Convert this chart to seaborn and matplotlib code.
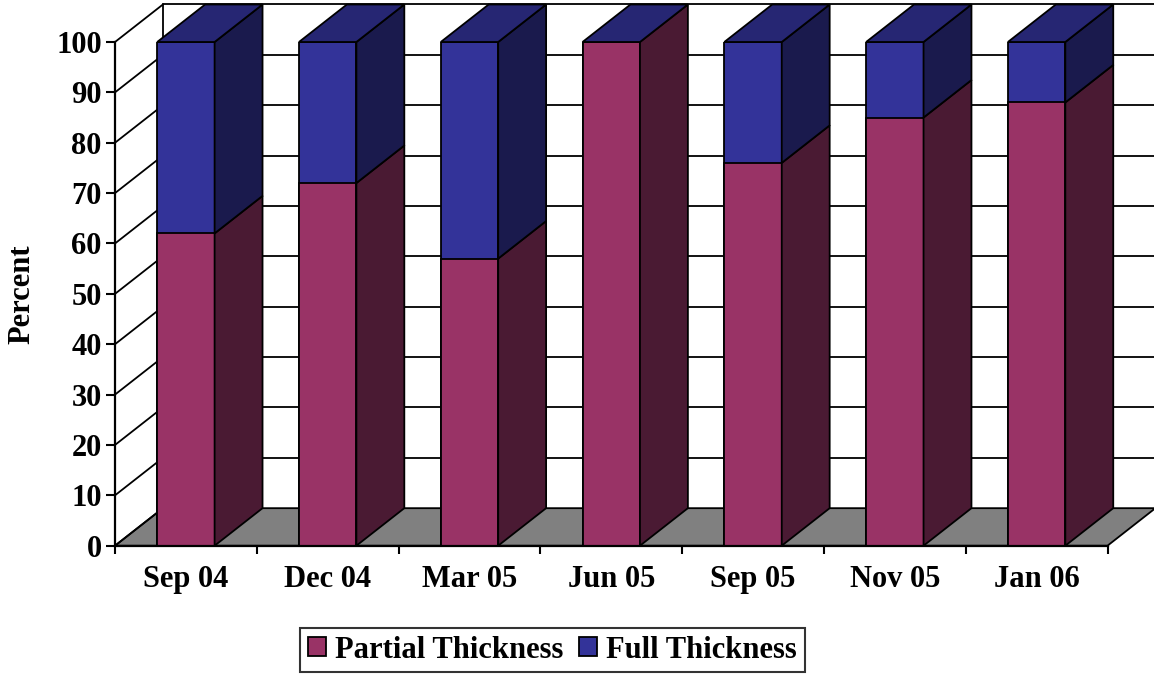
import matplotlib
matplotlib.use("Agg")
import matplotlib.pyplot as plt
from matplotlib.patches import Patch
import seaborn as sns

# --- data -------------------------------------------------------------
categories = ["Sep 04", "Dec 04", "Mar 05", "Jun 05", "Sep 05", "Nov 05", "Jan 06"]
partial_thickness = [62, 72, 57, 100, 76, 85, 88]
full_thickness = [38, 28, 43, 0, 24, 15, 12]
y_ticks = list(range(0, 101, 10))

# --- style ------------------------------------------------------------
PARTIAL_FRONT, PARTIAL_SIDE = "#993366", "#4A1A33"
FULL_FRONT, FULL_SIDE, FULL_TOP = "#333399", "#1A1A4D", "#262673"
FLOOR = "#808080"
LW = 1.3
BAR_WIDTH = 0.405
# depth of the pseudo-3D box, in data units (categories, percent)
DX, DY = 0.338, 7.45

sns.set_theme(style="white")
plt.rcParams["font.family"] = ["Liberation Serif", "DejaVu Serif"]
plt.rcParams["font.weight"] = "bold"
plt.rcParams["font.size"] = 22
for key in ["text.color", "axes.labelcolor", "xtick.color", "ytick.color",
            "xtick.labelcolor", "ytick.labelcolor"]:
    plt.rcParams[key] = "black"

fig = plt.figure(figsize=(11.54, 6.77), dpi=100)
ax = fig.add_axes([115 / 1154, 1 - 545.7 / 677, 992.5 / 1154, 503.7 / 677])
ax.set_facecolor("none")

totals = [p + f for p, f in zip(partial_thickness, full_thickness)]

# front faces: full stack first, partial series over it
sns.barplot(x=categories, y=totals, color=FULL_FRONT, saturation=1, width=BAR_WIDTH,
            edgecolor="black", linewidth=LW, errorbar=None, ax=ax, zorder=3)
sns.barplot(x=categories, y=partial_thickness, color=PARTIAL_FRONT, saturation=1,
            width=BAR_WIDTH, edgecolor="black", linewidth=LW, errorbar=None, ax=ax, zorder=3)

ax.set_xlim(-0.5, len(categories) - 0.5)
ax.set_ylim(0, 100)
x0, x1 = ax.get_xlim()

# floor
ax.fill([x0, x1, x1 + DX, x0 + DX], [0, 0, DY, DY], facecolor=FLOOR,
        edgecolor="black", linewidth=LW, zorder=1, clip_on=False)

# side-wall diagonals and back-wall gridlines
for y in y_ticks:
    ax.plot([x0, x0 + DX], [y, y + DY], color="black", lw=LW, zorder=1.5, clip_on=False)
    if y > 0:
        ax.plot([x0 + DX, x1 + DX], [y + DY, y + DY], color="black", lw=LW,
                zorder=1.5, clip_on=False)
ax.plot([x0 + DX, x0 + DX], [DY, 100 + DY], color="black", lw=LW, zorder=1.5, clip_on=False)

# side and top faces of each bar, using the bar geometry laid out by seaborn
n = len(categories)
front_bars = ax.patches[:n]
for bar, p, tot in zip(front_bars, partial_thickness, totals):
    xl = bar.get_x()
    xr = xl + bar.get_width()
    segments = [(0, p, PARTIAL_SIDE), (p, tot, FULL_SIDE)]
    for y0, y1, col in segments:
        if y1 > y0:
            ax.fill([xr, xr + DX, xr + DX, xr], [y0, y0 + DY, y1 + DY, y1],
                    facecolor=col, edgecolor="black", linewidth=LW, zorder=3,
                    clip_on=False)
    ax.fill([xl, xr, xr + DX, xl + DX], [tot, tot, tot + DY, tot + DY],
            facecolor=FULL_TOP, edgecolor="black", linewidth=LW, zorder=3,
            clip_on=False)

# axes
for side in ["top", "right"]:
    ax.spines[side].set_visible(False)
for side in ["left", "bottom"]:
    ax.spines[side].set_color("black")
    ax.spines[side].set_linewidth(1.6)
    ax.spines[side].set_zorder(4)

ax.set_yticks(y_ticks)
ax.tick_params(axis="y", direction="out", length=6.5, width=1.5, color="black",
               labelcolor="black", pad=3, left=True, labelsize=22)
ax.set_xticks(range(n))
ax.set_xticklabels(categories)
ax.set_xticks([i - 0.5 for i in range(n + 1)], minor=True)
ax.tick_params(axis="x", which="major", length=0, pad=14, labelsize=22,
               labelcolor="black")
ax.tick_params(axis="x", which="minor", direction="out", length=6, width=1.5,
               color="black", bottom=True)
for lab in ax.get_xticklabels() + ax.get_yticklabels():
    lab.set_fontweight("bold")
ax.grid(False)

ax.set_xlabel("")
ax.set_ylabel("Percent", fontsize=22, fontweight="bold", labelpad=14, color="black")

handles = [Patch(facecolor=PARTIAL_FRONT, edgecolor="black", linewidth=LW, label="Partial Thickness"),
           Patch(facecolor=FULL_FRONT, edgecolor="black", linewidth=LW, label="Full Thickness")]
leg = fig.legend(handles=handles, loc="center", bbox_to_anchor=(552.5 / 1154, 1 - 650 / 677),
                 ncol=2, frameon=True, fancybox=False, shadow=False, fontsize=22,
                 handlelength=0.6, handleheight=0.6, handletextpad=0.3,
                 columnspacing=0.5, borderpad=0.25, borderaxespad=0)
leg.get_frame().set_edgecolor("black")
leg.get_frame().set_linewidth(1.5)
for t in leg.get_texts():
    t.set_fontweight("bold")
    t.set_color("black")

fig.savefig("out.png", dpi=100)
